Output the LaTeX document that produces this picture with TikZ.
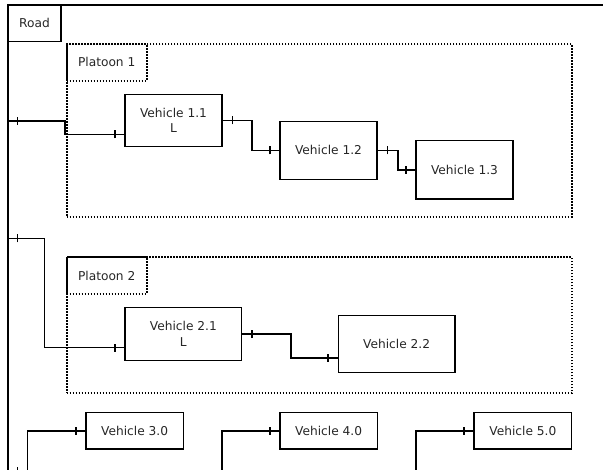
\documentclass[tikz,border=0pt]{standalone}
\usepackage{fontspec}
\setmainfont{DejaVu Sans}
\usetikzlibrary{decorations.markings,calc}
\tikzset{
  box/.style={draw, line width=1.5pt, rectangle, inner sep=0pt, align=center,
    font=\fontsize{12.2}{15.5}\selectfont, text=black!85},
  frm/.style={draw, line width=1.8pt, dash pattern=on 1.5pt off 1.5pt, rectangle, inner sep=0pt},
  lbl/.style={draw, line width=1.8pt, dash pattern=on 1.5pt off 1.5pt, rectangle, inner sep=0pt,
    font=\fontsize{12.2}{14}\selectfont, text=black!85, minimum width=80pt, minimum height=36.7pt},
  conn/.style={line width=1.5pt, postaction={decorate, decoration={markings,
    mark=at position 9.5pt with {\draw[line width=1.5pt] (0,-4pt) -- (0,4pt);},
    mark=at position -9.5pt with {\draw[line width=1.5pt] (0,-4pt) -- (0,4pt);}}}}
}
\begin{document}
\begin{tikzpicture}[x=1pt,y=-1pt]
\useasboundingbox (0,0) rectangle (603,470);
\clip (0,0) rectangle (603,470);
% outer road frame
\draw[line width=1.7pt] (8,5) rectangle (700,700);
\node[box, minimum width=53pt, minimum height=36.7pt] (road) at (34.5,23.3) {Road};
% platoon 1
\node[frm, minimum width=505pt, minimum height=172.7pt] (pl1) at (319.2,130.35) {};
\node[lbl] (pl1l) at (106.7,62.35) {Platoon 1};
\node[box, minimum width=97pt, minimum height=52pt] (v11) at (173.5,120.4) {Vehicle 1.1\\L};
\node[box, minimum width=97pt, minimum height=58pt] (v12) at (328.5,150.3) {Vehicle 1.2};
\node[box, minimum width=97pt, minimum height=58.3pt] (v13) at (464.5,169.85) {Vehicle 1.3};
% platoon 2
\node[frm, minimum width=505pt, minimum height=136pt] (pl2) at (319.2,325.3) {};
\node[lbl] (pl2l) at (106.7,275.65) {Platoon 2};
\node[box, minimum width=116.7pt, minimum height=52.8pt] (v21) at (183.35,334.1) {Vehicle 2.1\\L};
\node[box, minimum width=116.7pt, minimum height=56.6pt] (v22) at (396.65,344) {Vehicle 2.2};
% single vehicles
\node[box, minimum width=97.3pt, minimum height=36.3pt] (v3) at (134.65,430.85) {Vehicle 3.0};
\node[box, minimum width=97.3pt, minimum height=36.3pt] (v4) at (328.65,430.85) {Vehicle 4.0};
\node[box, minimum width=97.3pt, minimum height=36.3pt] (v5) at (522.85,430.85) {Vehicle 5.0};
% connector start points on the road frame
\coordinate (p1) at (8,121);
\coordinate (p2) at (8,238.3);
\coordinate (p3) at (8,471);
\coordinate (p4) at (8,490);
\coordinate (p5) at (8,510);
% connectors
\draw[conn] (p1) -- ++(57,0) |- ([yshift=-14pt]v11.west);
\draw[conn] (v11.east) -- ++(29,0) |- (v12.west);
\draw[conn] (v12.east) -- ++(20,0) |- (v13.west);
\draw[conn] (p2) -- ++(36.7,0) |- ([yshift=-13.5pt]v21.west);
\draw[conn] (v21.east) -- ++(48.3,0) |- ([yshift=-14pt]v22.west);
\draw[conn] (p3) -- ++(19.7,0) |- (v3.west);
\draw[conn] (p4) -- ++(214,0) |- (v4.west);
\draw[conn] (p5) -- ++(408,0) |- (v5.west);
\end{tikzpicture}
\end{document}
